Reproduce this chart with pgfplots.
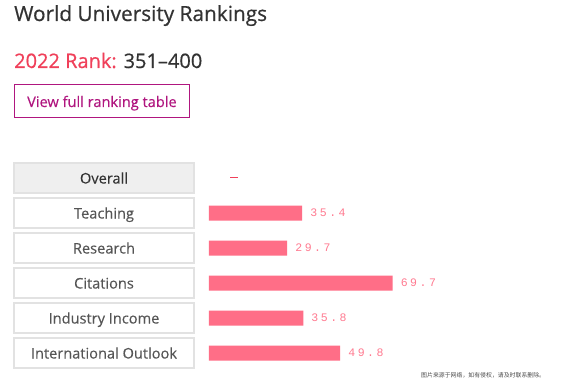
\documentclass[border=0pt]{standalone}
\usepackage{fontspec}
\setmainfont{Open Sans}[FakeBold=0.25]
\newfontfamily\headfont{Open Sans}[FakeBold=0.6]
\newfontfamily\monofont[LetterSpace=22]{Liberation Mono}
\newfontfamily\cjk{Noto Sans CJK SC}
\usepackage{pgfplots}
\pgfplotsset{compat=1.18}
\definecolor{titlegray}{HTML}{333333}
\definecolor{rankred}{HTML}{F0405A}
\definecolor{btn}{HTML}{B0167F}
\definecolor{barpink}{HTML}{FF6E87}
\definecolor{valpink}{HTML}{FF7A90}
\definecolor{lbl}{HTML}{555555}
\definecolor{boxline}{HTML}{E2E2E2}
\definecolor{overallfill}{HTML}{EFEFEF}
\begin{document}
\begin{tikzpicture}
\useasboundingbox (0,0) rectangle (582pt,386pt);
\fill[white] (0,0) rectangle (582pt,386pt);
\begin{scope}[x=1pt,y=-1pt,yshift=386pt]
  \filldraw[fill=overallfill, draw=boxline, line width=2pt] (14,163) rectangle (194,193);
  \foreach \t in {198,233,268,303,338}
    \filldraw[fill=white, draw=boxline, line width=2pt] (14,\t) rectangle (194,\t+30);
  \node[anchor=base west, inner sep=0pt, text=titlegray] at (14,21)
    {\headfont\fontsize{20.8}{23}\selectfont World University Rankings};
  \node[anchor=base west, inner sep=0pt] at (14,68)
    {\headfont\fontsize{20}{22}\selectfont\textcolor{rankred}{2022 Rank:} \textcolor{titlegray}{351–400}};
  \draw[btn, line width=1pt] (14.5,84.5) rectangle (189.5,118);
  \node[anchor=base west, inner sep=0pt, text=btn] at (27,107)
    {\fontsize{14.6}{18}\selectfont View full ranking table};
  \draw[rankred, line width=1.2pt] (230,177.5) -- (238,177.5);
  \node[anchor=base west, inner sep=0pt, text=black!70] at (421,378)
    {\cjk\fontsize{5.9}{6}\selectfont 图片来源于网络，如有侵权，请及时联系删除。};
\end{scope}
\begin{axis}[
  at={(0,0)}, anchor=south west,
  width=582pt, height=386pt, scale only axis,
  xmin=-79.3, xmax=141.6,
  ymin=-5.0857, ymax=5.9429, y dir=reverse,
  axis line style={draw=none}, tick style={draw=none},
  major tick length=0pt,
  xtick=\empty,
  ytick={0,1,2,3,4,5},
  yticklabels={{\color{titlegray}Overall},Teaching,Research,Citations,Industry Income,International Outlook},
  yticklabel style={anchor=base, xshift=104pt, yshift=-5.5pt, inner sep=0pt, text=lbl, font=\fontsize{14.6}{16}\selectfont},
  xbar, bar width=15pt, clip=false,
  point meta=x,
  nodes near coords={\monofont\fontsize{11.5}{12}\selectfont\pgfmathprintnumber[fixed,fixed zerofill,precision=1,assume math mode=true]{\pgfplotspointmeta}},
  nodes near coords style={anchor=west, inner sep=0pt, xshift=8pt, text=valpink},
]
\addplot[fill=barpink, draw=none] coordinates {(35.4,1) (29.7,2) (69.7,3) (35.8,4) (49.8,5)};
\end{axis}
\end{tikzpicture}
\end{document}
